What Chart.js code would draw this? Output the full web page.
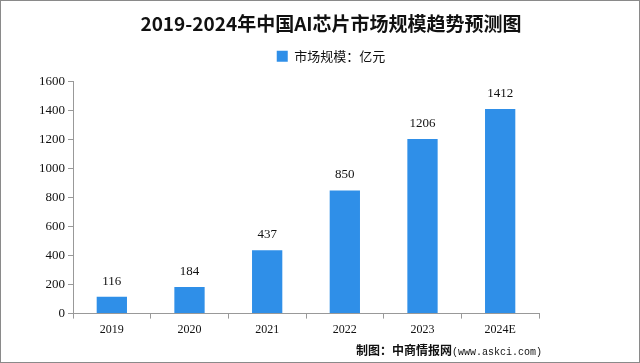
<!DOCTYPE html>
<html><head><meta charset="utf-8">
<script src="https://cdn.jsdelivr.net/npm/chart.js@4"></script>
<style>
html,body{margin:0;padding:0;background:#fff;}
#wrap{position:relative;width:640px;height:363px;box-sizing:border-box;border:1px solid #8a8a8a;}
canvas{position:absolute;left:0;top:0;}
#src{position:absolute;left:355px;top:340px;font:bold 12px "Noto Sans CJK SC";color:#111;white-space:nowrap;}
#src span{font:normal 10px "Liberation Mono";}
</style></head>
<body>
<div id="wrap"><canvas id="c" width="640" height="363"></canvas>
<div id="src">制图：中商情报网<span>(www.askci.com)</span></div></div>
<script>
const categories = ["2019","2020","2021","2022","2023","2024E"];
const marketSize = [116,184,437,850,1206,1412];
const yTicks = [0,200,400,600,800,1000,1200,1400,1600];
const titleText = "2019-2024年中国AI芯片市场规模趋势预测图";
const seriesName = "市场规模：亿元";

const labelPlugin = {
  id:'valueLabels',
  afterDatasetsDraw(chart){
    const ctx = chart.ctx;
    const meta = chart.getDatasetMeta(0);
    ctx.save();
    ctx.font = '13px "Liberation Serif"';
    ctx.fillStyle = '#111';
    ctx.textAlign = 'center';
    ctx.textBaseline = 'bottom';
    meta.data.forEach((bar,i)=>{
      ctx.fillText(String(marketSize[i]), bar.x, bar.y - 9);
    });
    ctx.restore();
  }
};

new Chart(document.getElementById('c'), {
  type:'bar',
  data:{labels:categories,datasets:[{label:seriesName,data:marketSize,backgroundColor:'#2F8FE8',borderWidth:0,barPercentage:0.78,categoryPercentage:0.5}]},
  options:{
    responsive:false,animation:false,
    layout:{padding:{left:20,right:0,top:0,bottom:23}},
    plugins:{
      title:{display:true,text:titleText,color:'#111',font:{family:'"Noto Sans CJK SC"',size:19,weight:'bold'},padding:{top:11,bottom:9}},
      legend:{display:true,labels:{color:'#111',font:{family:'"Noto Sans CJK SC"',size:13},boxWidth:11,boxHeight:11,padding:6}},
      tooltip:{enabled:false}
    },
    scales:{
      x:{grid:{display:true,drawOnChartArea:false,offset:true,tickLength:5,color:'#999'},border:{color:'#999'},
         ticks:{color:'#111',font:{family:'"Liberation Serif"',size:12},padding:4}},
      y:{min:0,max:1600,afterBuildTicks(s){s.ticks=yTicks.map(v=>({value:v}));},
         grid:{display:true,drawOnChartArea:false,tickLength:5,color:'#999'},border:{color:'#999'},
         ticks:{color:'#111',font:{family:'"Liberation Serif"',size:13},padding:3,callback:(v)=>String(v)},
         afterFit(s){s.width=52;}},
      yRight:{position:'right',display:true,grid:{display:false},border:{display:false},ticks:{display:false},
         afterFit(s){s.width=102;}},
      xTop:{position:'top',type:'category',display:true,grid:{display:false},border:{display:false},ticks:{display:false},
         afterFit(s){s.height=9;}}
    }
  },
  plugins:[labelPlugin]
});
</script>
</body></html>
